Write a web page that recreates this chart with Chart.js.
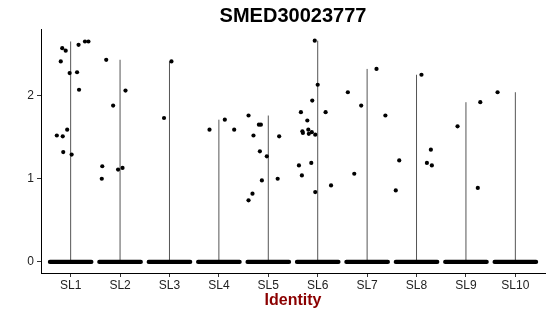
<!DOCTYPE html>
<html><head><meta charset="utf-8">
<script src="https://cdn.jsdelivr.net/npm/chart.js@4.4.1/dist/chart.umd.min.js"></script>
<style>html,body{margin:0;padding:0;background:#fff}</style>
</head><body>
<canvas id="c" width="550" height="316"></canvas>
<script>
const chartTitle = 'SMED30023777';
const xAxisTitle = 'Identity';
const categories = ['SL1','SL2','SL3','SL4','SL5','SL6','SL7','SL8','SL9','SL10'];
const yTicks = [0, 1, 2];

// non-zero expression values per identity
const valuesSL1 = [2.65, 2.65, 2.61, 2.57, 2.54, 2.41, 2.27, 2.28, 2.07, 1.59, 1.52, 1.51, 1.32, 1.29];
const valuesSL2 = [2.43, 2.06, 1.88, 1.15, 1.13, 1.11, 1.00];
const valuesSL3 = [2.41, 1.73];
const valuesSL4 = [1.59, 1.71, 1.59];
const valuesSL5 = [1.76, 1.65, 1.65, 1.52, 1.51, 1.33, 1.27, 0.98, 1.00, 0.82, 0.74];
const valuesSL6 = [2.66, 2.13, 1.94, 1.80, 1.80, 1.70, 1.57, 1.55, 1.59, 1.54, 1.56, 1.53, 1.16, 1.19, 1.04, 0.92, 0.84];
const valuesSL7 = [2.04, 2.32, 1.88, 1.76, 1.06];
const valuesSL8 = [2.25, 1.22, 1.35, 1.19, 1.16, 0.86];
const valuesSL9 = [1.63, 1.92, 0.89];
const valuesSL10 = [2.04];

// horizontal jitter of each point (category units)
const jitterSL1 = [0.29, 0.36, 0.16, -0.17, -0.10, -0.20, -0.02, 0.13, 0.17, -0.07, -0.28, -0.16, -0.15, 0.02];
const jitterSL2 = [-0.28, 0.11, -0.14, -0.36, 0.05, -0.04, -0.37];
const jitterSL3 = [0.04, -0.11];
const jitterSL4 = [-0.19, 0.12, 0.31];
const jitterSL5 = [-0.40, -0.19, -0.15, -0.30, 0.22, -0.17, -0.03, -0.13, 0.19, -0.32, -0.40];
const jitterSL6 = [-0.06, 0.00, -0.11, -0.34, 0.16, -0.21, -0.31, -0.30, -0.19, -0.18, -0.12, -0.05, -0.38, -0.13, -0.32, 0.27, -0.05];
const jitterSL7 = [-0.39, 0.19, -0.12, 0.37, -0.26];
const jitterSL8 = [0.10, -0.35, 0.29, 0.21, 0.31, -0.42];
const jitterSL9 = [-0.17, 0.29, 0.24];
const jitterSL10 = [-0.36];

// most cells are zero: they form a dense jittered band at 0 spanning this range
const zeroBandJitter = [-0.42, 0.42];

const groupValues = [valuesSL1, valuesSL2, valuesSL3, valuesSL4, valuesSL5, valuesSL6, valuesSL7, valuesSL8, valuesSL9, valuesSL10];
const groupJitter = [jitterSL1, jitterSL2, jitterSL3, jitterSL4, jitterSL5, jitterSL6, jitterSL7, jitterSL8, jitterSL9, jitterSL10];

const datasets = [];
const pts = [];
groupValues.forEach((vals, i) => {
  vals.forEach((v, k) => pts.push({x: i + 1 + groupJitter[i][k], y: v}));
});
datasets.push({
  data: pts, pointRadius: 2.1, pointBackgroundColor: '#000', pointBorderWidth: 0,
  showLine: false, order: 0
});
groupValues.forEach((vals, i) => {
  // violin (degenerate: a line from 0 to the group max)
  datasets.push({
    data: [{x: i + 1, y: 0}, {x: i + 1, y: Math.max(...vals)}],
    showLine: true, pointRadius: 0, borderColor: '#555', borderWidth: 1, order: 2
  });
  // zero-valued cells band
  datasets.push({
    data: [{x: i + 1 + zeroBandJitter[0], y: 0}, {x: i + 1 + zeroBandJitter[1], y: 0}],
    showLine: true, pointRadius: 0, borderColor: '#000', borderWidth: 4.2,
    borderCapStyle: 'round', order: 1
  });
});

const FONT = "'Liberation Sans', Arial, Helvetica, sans-serif";
new Chart(document.getElementById('c'), {
  type: 'scatter',
  data: { datasets },
  options: {
    responsive: false, animation: false,
    layout: { padding: { left: 0, right: 5, top: 0, bottom: 0 } },
    plugins: {
      legend: { display: false },
      tooltip: { enabled: false },
      title: {
        display: true, text: chartTitle, fullSize: false, color: '#000',
        font: { family: FONT, size: 20, weight: 'bold' }, padding: { top: 4, bottom: 1 }
      }
    },
    scales: {
      x: {
        type: 'linear', min: 0.4, max: 10.6,
        afterBuildTicks: s => { s.ticks = categories.map((c, i) => ({ value: i + 1 })); },
        afterFit: s => { s.height = 43; },
        ticks: {
          callback: v => categories[Math.round(v) - 1] || '', autoSkip: false, maxRotation: 0,
          color: '#222', font: { family: FONT, size: 12 }, padding: 1
        },
        grid: { display: true, drawOnChartArea: false, drawTicks: true, tickLength: 4, color: '#333' },
        border: { display: true, color: '#000', width: 1 },
        title: {
          display: true, text: xAxisTitle, color: '#8b0000',
          font: { family: FONT, size: 16, weight: 'bold' }, padding: { top: 0, bottom: 6 }
        }
      },
      y: {
        type: 'linear', min: -0.133, max: 2.8,
        afterBuildTicks: s => { s.ticks = yTicks.map(v => ({ value: v })); },
        afterFit: s => { s.width = 41; },
        ticks: { callback: v => String(v), color: '#222', font: { family: FONT, size: 12 }, padding: 3 },
        grid: { display: true, drawOnChartArea: false, drawTicks: true, tickLength: 4, color: '#333' },
        border: { display: true, color: '#000', width: 1 }
      }
    }
  }
});
</script>
</body></html>
